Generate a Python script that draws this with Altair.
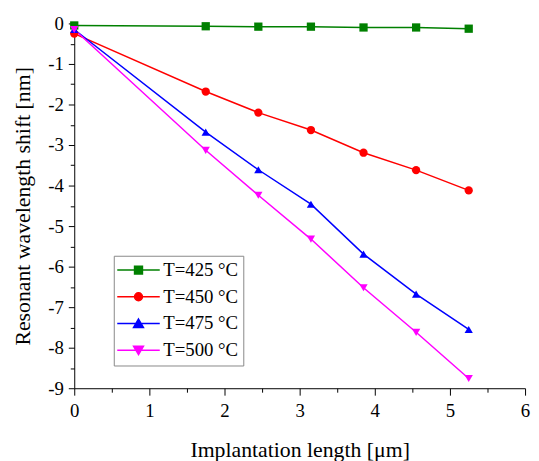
import altair as alt
import pandas as pd

# ---- data ----
lengths = [0, 1.75, 2.45, 3.15, 3.85, 4.55, 5.25]
series_names = ["T=425 °C", "T=450 °C", "T=475 °C", "T=500 °C"]
shift_425 = [-0.05, -0.07, -0.08, -0.08, -0.10, -0.10, -0.13]
shift_450 = [-0.25, -1.68, -2.20, -2.63, -3.19, -3.62, -4.12]
shift_475 = [-0.15, -2.68, -3.61, -4.46, -5.69, -6.68, -7.55]
shift_500 = [-0.15, -3.13, -4.24, -5.32, -6.52, -7.62, -8.76]

x_major = [0, 1, 2, 3, 4, 5, 6]
x_minor = [0.5, 1.5, 2.5, 3.5, 4.5, 5.5]
y_major = [0, -1, -2, -3, -4, -5, -6, -7, -8, -9]
y_minor = [-0.5, -1.5, -2.5, -3.5, -4.5, -5.5, -6.5, -7.5, -8.5]

colors = ["#008000", "#ff0000", "#0000ff", "#ff00ff"]
marker_shapes = ["square", "circle", "triangle-up", "triangle-down"]
legend_shapes = [
    "M-2.2,0H6.4M1.3,-0.8H2.9V0.8H1.3Z",
    "M-2.2,0H6.4M1.3,0A0.8,0.8,0,1,1,2.9,0A0.8,0.8,0,1,1,1.3,0Z",
    "M-2.2,0H6.4M2.1,-0.9L3.1,0.8L1.1,0.8Z",
    "M-2.2,0H6.4M2.1,0.9L3.1,-0.8L1.1,-0.8Z",
]

rows = []
for name, vals in zip(series_names, [shift_425, shift_450, shift_475, shift_500]):
    for xv, yv in zip(lengths, vals):
        rows.append({"series": name, "length": xv, "shift": yv})
df = pd.DataFrame(rows)

FONT = "Liberation Serif"

xscale = alt.Scale(domain=[0, 6], nice=False, zero=False)
yscale = alt.Scale(domain=[-9, 0], nice=False, zero=False)
cscale = alt.Scale(domain=series_names, range=colors)

x_major_axis = alt.Axis(
    values=x_major, tickSize=7, tickColor="black", domainColor="black",
    labelFont=FONT, labelFontSize=19, labelColor="black", labelPadding=7,
    labelFlush=False, grid=False, title="Implantation length [μm]",
    titleFont=FONT, titleFontSize=22, titleFontWeight="normal",
    titleColor="black", titlePadding=19, orient="bottom",
)
x_minor_axis = alt.Axis(
    values=x_minor, tickSize=4, tickColor="black", labels=False,
    domain=False, grid=False, title=None, orient="bottom",
)
y_major_axis = alt.Axis(
    values=y_major, tickSize=6, tickColor="black", domainColor="black",
    labelFont=FONT, labelFontSize=19, labelColor="black", labelPadding=5,
    labelFlush=False, grid=False, labelExpr="toString(datum.value)",
    title="Resonant wavelength shift [nm]", titleFont=FONT,
    titleFontSize=22, titleFontWeight="normal", titleColor="black",
    titlePadding=13, orient="left",
)
y_minor_axis = alt.Axis(
    values=y_minor, tickSize=4, tickColor="black", labels=False,
    domain=False, grid=False, title=None, orient="left",
)

base = alt.Chart(df)

lines = base.mark_line(strokeWidth=1.5).encode(
    x=alt.X("length:Q", scale=xscale, axis=x_major_axis),
    y=alt.Y("shift:Q", scale=yscale, axis=y_major_axis),
    color=alt.Color("series:N", scale=cscale, legend=None),
    detail="series:N",
)

markers = base.mark_point(filled=True, opacity=1, size=70).encode(
    x=alt.X("length:Q", scale=xscale, axis=x_minor_axis),
    y=alt.Y("shift:Q", scale=yscale, axis=y_minor_axis),
    color=alt.Color("series:N", scale=cscale, legend=None),
    shape=alt.Shape("series:N", scale=alt.Scale(domain=series_names, range=marker_shapes), legend=None),
)

leg = alt.Legend(
    title=None, orient="none", legendX=40, legendY=235,
    labelFont=FONT, labelFontSize=19, labelColor="black",
    labelOffset=26, symbolSize=100, symbolStrokeWidth=1.5,
    rowPadding=7, padding=5, strokeColor="#888888", fillColor="white",
)

legend_layer = base.transform_filter("false").mark_point(opacity=1, strokeWidth=1.5).encode(
    x=alt.X("length:Q", scale=xscale, axis=None),
    y=alt.Y("shift:Q", scale=yscale, axis=None),
    fill=alt.Fill("series:N", scale=alt.Scale(domain=series_names, range=colors), legend=leg),
    stroke=alt.Stroke("series:N", scale=alt.Scale(domain=series_names, range=colors), legend=leg),
    shape=alt.Shape("series:N", scale=alt.Scale(domain=series_names, range=legend_shapes), legend=leg),
)

chart = alt.layer(lines, markers, legend_layer).resolve_scale(
    shape="independent", fill="independent", stroke="independent"
).resolve_axis(
    x="independent", y="independent"
).properties(
    width=456, height=369,
    autosize=alt.AutoSizeParams(type="none"),
    padding={"left": 67, "top": 13, "right": 6, "bottom": 71},
).configure(
    font=FONT
).configure_axis(
    labelFont=FONT, labelFontSize=19, titleFont=FONT
).configure_legend(
    labelFont=FONT, labelFontSize=19
).configure_view(stroke=None)

chart.save("out.html", embed_options={"renderer": "svg", "actions": False})
